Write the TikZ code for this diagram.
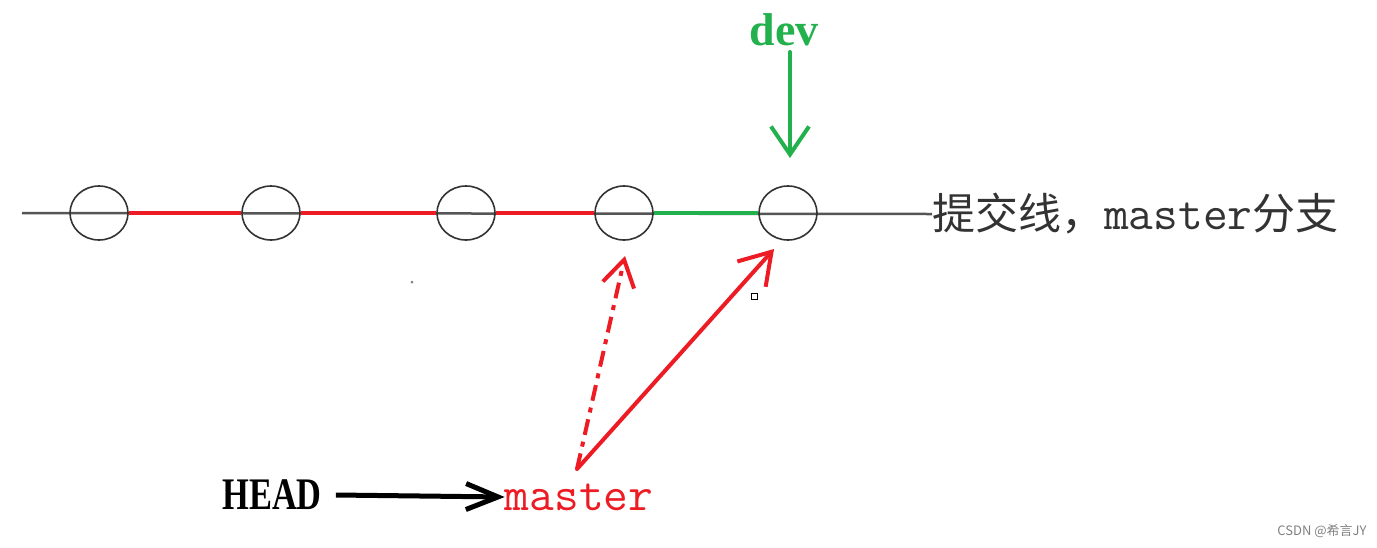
\documentclass[tikz,border=0pt]{standalone}
\usepackage{fontspec}
\setmainfont{Liberation Serif}
\newfontfamily\cjk{Noto Sans CJK SC}
\usetikzlibrary{shapes.geometric,arrows.meta}
\definecolor{pred}{HTML}{ED1C24}
\definecolor{pgreen}{HTML}{22B14C}
\definecolor{lgray}{HTML}{555555}
\definecolor{cgray}{HTML}{333333}
\tikzset{
  commit/.style={ellipse,draw=cgray,line width=1.6pt,minimum width=58pt,minimum height=54pt,inner sep=0pt},
  baseline/.style={draw=lgray,line width=2.5pt},
  redseg/.style={draw=pred,line width=4pt},
  greenseg/.style={draw=pgreen,line width=4pt},
  lbl/.style={inner sep=0pt},
}
\begin{document}
\begin{tikzpicture}[x=1pt,y=-1pt]
\useasboundingbox (0,0) rectangle (1377,547);
% commits
\coordinate (lstart) at (22,213);
\node[lbl,anchor=west,text=cgray] (txt) at (932,214) {\fontsize{43}{50}\selectfont{\cjk 提交线，}{\fontsize{48}{50}\selectfont\ttfamily master}{\cjk 分支}};
\draw[baseline] (lstart) -- (txt.west);
\node[commit] (c1) at (99,213) {};
\node[commit] (c2) at (271,213) {};
\node[commit] (c3) at (466,213) {};
\node[commit] (c4) at (624,213) {};
\node[commit] (c5) at (788,213) {};
\draw[redseg] (c1.east) -- (c2.west);
\draw[redseg] (c2.east) -- (c3.west);
\draw[redseg] (c3.east) -- (c4.west);
\draw[greenseg] (c4.east) -- (c5.west);
% dev
\node[lbl,text=pgreen] (dev) at (784,30) {\fontsize{46}{50}\selectfont\bfseries dev};
\coordinate (devtip) at (790,158);
\draw[pgreen,line width=4pt,line cap=round,-{Straight Barb[length=28pt,width=38pt,line width=4pt]}] (790,52) -- (devtip);
% HEAD and master
\node[lbl] (head) at (272,495) {\fontsize{43}{48}\selectfont\bfseries\scalebox{0.8}[1.05]{HEAD}};
\node[lbl,text=pred] (master) at (579,497) {\fontsize{48}{50}\selectfont\ttfamily master};
\draw[black,line width=5pt,-{Straight Barb[length=32pt,width=26pt,line width=5pt]}] (head.east) ++(14,0) -- (master.west);
% pointers from master
\coordinate (mtop) at (577,469);
\coordinate (t4) at (625,256);
\coordinate (t5) at (774,249);
\draw[pred,line width=4pt,dash pattern=on 16pt off 7pt on 5pt off 7pt,-{Straight Barb[length=26pt,width=32pt,line width=4pt,sep=0pt]}] (mtop) -- (t4);
\draw[pred,line width=4pt,line cap=round,-{Straight Barb[length=30pt,width=38pt,line width=4pt]}] (mtop) -- (t5);
% small marks
\draw[black,line width=1pt] (751,293) rectangle (757,299);
\fill[gray] (412,282) circle (1.5pt);
% watermark
\node[lbl,text=gray] (wm) at (1322,531) {\fontsize{13}{15}\selectfont\cjk CSDN @希言JY};
\end{tikzpicture}
\end{document}
